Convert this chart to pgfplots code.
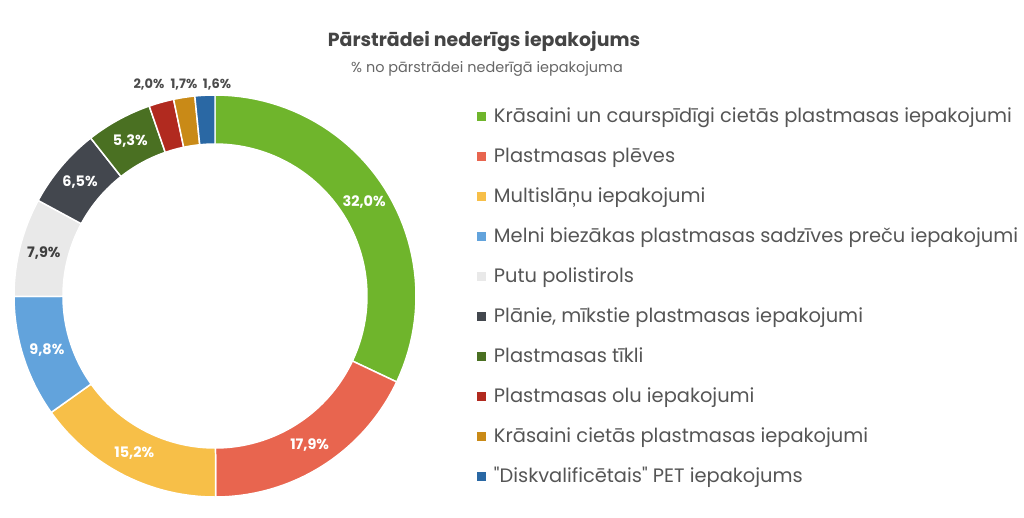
\documentclass[border=0pt]{standalone}
\usepackage{pgfplots}
\pgfplotsset{compat=1.18}
\usepackage{pgfplotstable}
\usepackage{fontspec}
\setmainfont{Poppins}[Ligatures=TeXOff]

\definecolor{c0}{HTML}{6FB52C}
\definecolor{c1}{HTML}{E8654F}
\definecolor{c2}{HTML}{F7BF48}
\definecolor{c3}{HTML}{62A3DC}
\definecolor{c4}{HTML}{E9E9E9}
\definecolor{c5}{HTML}{43474E}
\definecolor{c6}{HTML}{4A7022}
\definecolor{c7}{HTML}{B12A1F}
\definecolor{c8}{HTML}{C98A17}
\definecolor{c9}{HTML}{2A68A4}
\colorlet{lc0}{white}\colorlet{lc1}{white}\colorlet{lc2}{white}
\colorlet{lc3}{white}\colorlet{lc4}{black!75}\colorlet{lc5}{white}
\colorlet{lc6}{white}\colorlet{lc7}{black!70}\colorlet{lc8}{black!70}
\colorlet{lc9}{black!70}
\definecolor{titlegray}{HTML}{444444}
\definecolor{subgray}{HTML}{666666}
\definecolor{leggray}{HTML}{555555}

% share of each kind, %; lx = x of an outside label (0 = inside the ring)
\pgfplotstableread{
value lx
32.0 0
17.9 0
15.2 0
9.8  0
7.9  0
6.5  0
5.3  0
2.0  149
1.7  184
1.6  217
}\donut

\newcommand\lblfont{\fontsize{14.5}{16}\selectfont\bfseries}
\newcommand\outfont{\fontsize{13}{15}\selectfont\bfseries}
\newcommand\pct[1]{\pgfmathprintnumber[fixed, fixed zerofill, precision=1,
  use comma, assume math mode=true]{#1}\%}

\begin{document}
\begin{tikzpicture}
\begin{axis}[
  width=1024bp, height=517bp, scale only axis,
  xmin=0, xmax=1024, ymin=0, ymax=517, y dir=reverse,
  hide axis, clip=false,
  legend image code/.code={\fill[#1, draw=none] (0bp,-4bp) rectangle (9bp,5bp);},
  legend cell align=left,
  legend style={draw=none, fill=none, inner sep=0pt, outer sep=0pt,
    at={(axis description cs:0.4658,0.7911)}, anchor=north west,
    font=\fontsize{19.5}{22}\selectfont, text=leggray,
    row sep=22bp, column sep=8bp,
    nodes={inner sep=0pt, text height=14bp, text depth=4bp}},
]
\def\cum{0}
\pgfplotsforeachungrouped \i in {0,...,9}{
  \pgfplotstablegetelem{\i}{value}\of\donut \let\val\pgfplotsretval
  \pgfplotstablegetelem{\i}{lx}\of\donut \let\lx\pgfplotsretval
  \pgfmathsetmacro\a{90-\cum/99.9*360}
  \pgfmathsetmacro\b{90-(\cum+\val)/99.9*360}
  \pgfmathsetmacro\m{(\a+\b)/2}
  \edef\cmd{\noexpand\addplot[fill=c\i, draw=white, line width=1.5pt,
      samples at={0,...,101}]
    ({215+(x<=50?201:152)*cos(x<=50?(\a)+((\b)-(\a))*x/50:(\b)-((\b)-(\a))*(x-51)/50)},
     {296-(x<=50?201:152)*sin(x<=50?(\a)+((\b)-(\a))*x/50:(\b)-((\b)-(\a))*(x-51)/50)}) -- cycle;}
  \cmd
  \ifdim\lx pt>0pt
    \edef\cmd{\noexpand\node[font=\noexpand\outfont, text=lc\i, inner sep=0pt]
      at (axis cs:\lx,85) {\noexpand\pct{\val}};}
  \else
    \pgfmathsetmacro\lx{215+176.5*cos(\m)}
    \pgfmathsetmacro\ly{296-176.5*sin(\m)}
    \edef\cmd{\noexpand\node[font=\noexpand\lblfont, text=lc\i, inner sep=0pt]
      at (axis cs:\lx,\ly) {\noexpand\pct{\val}};}
  \fi
  \cmd
  \pgfmathsetmacro\cum{\cum+\val}
}
\legend{Krāsaini un caurspīdīgi cietās plastmasas iepakojumi,
  Plastmasas plēves,
  Multislāņu iepakojumi,
  Melni biezākas plastmasas sadzīves preču iepakojumi,
  Putu polistirols,
  {Plānie, mīkstie plastmasas iepakojumi},
  Plastmasas tīkli,
  Plastmasas olu iepakojumi,
  Krāsaini cietās plastmasas iepakojumi,
  "Diskvalificētais" PET iepakojums}
\node[font=\fontsize{19}{22}\selectfont\bfseries, text=titlegray]
  at (axis cs:484,42) {Pārstrādei nederīgs iepakojums};
\node[font=\fontsize{14.5}{16}\selectfont, text=subgray]
  at (axis cs:487,69) {\% no pārstrādei nederīgā iepakojuma};
\end{axis}
\pgfresetboundingbox
\path (current axis.south west) rectangle (current axis.north east);
\end{tikzpicture}
\end{document}
